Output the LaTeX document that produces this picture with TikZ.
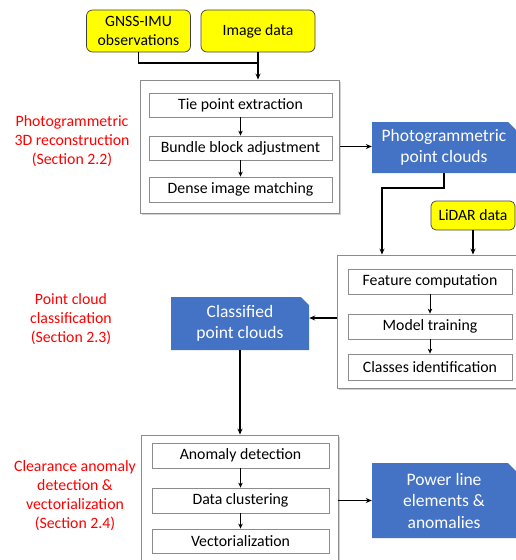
\documentclass[tikz,border=0pt]{standalone}
\usepackage{fontspec}
\setmainfont{Carlito}
\usetikzlibrary{arrows.meta,shapes.misc,shadows}
\definecolor{boxblue}{HTML}{4472C4}
\definecolor{boxgray}{HTML}{8C8C8C}
\definecolor{ybox}{HTML}{FFFF00}
\definecolor{lblred}{HTML}{FF0000}
\begin{document}
\begin{tikzpicture}[x=1pt,y=-1pt,
  inputbox/.style={draw=black!75, line width=0.7pt, fill=ybox, rounded corners=6pt,
    inner sep=0pt, align=center, font=\fontsize{15.7}{19}\selectfont},
  groupbox/.style={draw=boxgray, line width=0.9pt, fill=white, inner sep=0pt,
    drop shadow={shadow xshift=1.5pt, shadow yshift=-1.5pt, opacity=0.3, fill=black!60}},
  stepbox/.style={draw=boxgray, line width=0.8pt, fill=white, inner sep=0pt,
    minimum height=25pt, align=center, font=\fontsize{15.8}{18}\selectfont},
  resultbox/.style={chamfered rectangle, chamfered rectangle corners=north east,
    chamfered rectangle xsep=4pt, chamfered rectangle ysep=4pt,
    fill=boxblue, draw=none, inner sep=0pt, text=white, align=center,
    font=\fontsize{17.5}{20.5}\selectfont},
  redlabel/.style={text=lblred, align=center, inner sep=0pt, font=\fontsize{15.8}{19}\selectfont},
  conn/.style={line width=1.4pt, black},
  connarrow/.style={conn, -{Stealth[length=6pt,width=5pt]}},
  smallarrow/.style={line width=0.9pt, black, -{Stealth[length=5pt,width=4.5pt]}}
]
\useasboundingbox (0,0) rectangle (516,560);

% inputs
\node[inputbox, minimum width=104pt, minimum height=42pt] (gnss) at (138.5,31) {GNSS-IMU\\observations};
\node[inputbox, minimum width=114pt, minimum height=42pt] (img) at (258,31) {Image data};

% group 1
\node[groupbox, minimum width=199pt, minimum height=133pt] (outer1) at (240,146.5) {};
\node[stepbox, minimum width=183pt, minimum height=24pt] (tie) at (240.5,105) {Tie point extraction};
\node[stepbox, minimum width=183pt, minimum height=24pt] (bundle) at (240.5,148) {Bundle block adjustment};
\node[stepbox, minimum width=183pt] (dense) at (240.5,189.5) {Dense image matching};

\node[resultbox, minimum width=144pt, minimum height=51pt] (pc1) at (444,147.5) {Photogrammetric\\point clouds};
\node[inputbox, minimum width=84pt, minimum height=29pt, rounded corners=5pt] (lidar) at (473,215.5) {LiDAR data};

% group 2
\node[groupbox, minimum width=183pt, minimum height=133pt] (outer2) at (428.5,321.5) {};
\node[stepbox, minimum width=164pt] (feat) at (430,281.5) {Feature computation};
\node[stepbox, minimum width=164pt] (model) at (430,326.5) {Model training};
\node[stepbox, minimum width=164pt, minimum height=26pt] (classes) at (430,367) {Classes identification};

\node[resultbox, minimum width=138pt, minimum height=53pt] (pc2) at (240,323.5) {Classified\\point clouds};

% group 3
\node[groupbox, minimum width=197pt, minimum height=131pt] (outer3) at (239.5,500.5) {};
\node[stepbox, minimum width=177pt] (anom) at (240.5,455.5) {Anomaly detection};
\node[stepbox, minimum width=177pt] (clus) at (240.5,500.5) {Data clustering};
\node[stepbox, minimum width=177pt, minimum height=24pt] (vect) at (240.5,541) {Vectorialization};

\node[resultbox, minimum width=144pt, minimum height=75pt, font=\fontsize{17.5}{21.5}\selectfont] (pc3) at (444,500.5) {Power line\\elements \&\\anomalies};

% labels
\node[redlabel] (lab1) at (72,141.5) {Photogrammetric\\3D reconstruction\\(Section 2.2)};
\node[redlabel] (lab2) at (71,319.5) {Point cloud\\classification\\(Section 2.3)};
\node[redlabel] (lab3) at (75,496) {Clearance anomaly\\detection \&\\vectorialization\\(Section 2.4)};

% connectors
\coordinate (j1) at (258,63);
\draw[conn] (gnss.south) |- (j1);
\draw[connarrow] (img.south) -- (img.south |- outer1.north);
\draw[smallarrow] (tie.south) -- (bundle.north);
\draw[smallarrow] (bundle.south) -- (dense.north);
\draw[connarrow] (outer1.east) -- (outer1.east -| pc1.west);

\coordinate (c2) at (382,188);
\draw[connarrow] (pc1.south) |- (c2) -- (c2 |- outer2.north);
\draw[connarrow] (lidar.south) -- (lidar.south |- outer2.north);
\draw[smallarrow] (feat.south) -- (model.north);
\draw[smallarrow] (model.south) -- (classes.north);
\draw[connarrow] ([yshift=3.5pt]outer2.west) -- ([yshift=3.5pt]outer2.west -| pc2.east);

\draw[connarrow] (pc2.south) -- (pc2.south |- outer3.north);
\draw[smallarrow] (anom.south) -- (clus.north);
\draw[smallarrow] (clus.south) -- (vect.north);
\draw[connarrow] (outer3.east) -- (outer3.east -| pc3.west);
\end{tikzpicture}
\end{document}
